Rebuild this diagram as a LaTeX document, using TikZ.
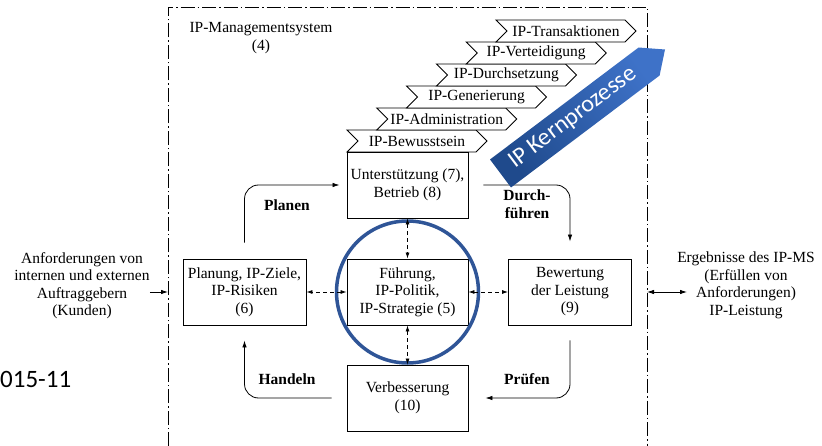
\documentclass[tikz,border=0pt]{standalone}
\usepackage{fontspec}
\setmainfont{Liberation Serif}
\newfontfamily\calfont{Carlito}
\usetikzlibrary{arrows.meta,shapes.symbols}
\definecolor{kreisblau}{HTML}{2F5597}
\definecolor{kerndunkel}{HTML}{1F4A8C}
\definecolor{kernhell}{HTML}{3E72C8}
\tikzset{
  txt/.style={font=\fontsize{15.5}{17.5}\selectfont, align=center, inner sep=0pt},
  fett/.style={txt, font=\fontsize{15.5}{17.5}\selectfont\bfseries},
  kasten/.style={txt, draw, line width=0.9pt, minimum width=121pt, minimum height=66pt},
  stufe/.style={txt, draw, line width=0.9pt, fill=white, signal, signal from=west,
    signal to=east, minimum width=140pt, minimum height=22pt},
  zyklus/.style={line width=0.8pt, rounded corners=14pt, -{Latex[length=7pt,width=4.5pt]}},
  wechsel/.style={line width=0.8pt, dash pattern=on 4pt off 3pt,
    {Latex[length=6pt,width=4pt]}-{Latex[length=6pt,width=4pt]}},
  rahmen/.style={line width=0.8pt, dash pattern=on 14pt off 3pt on 1.5pt off 3pt},
  aussen/.style={line width=0.8pt}
}
\begin{document}
\begin{tikzpicture}[x=1pt, y=-1pt]
  \useasboundingbox (0,0) rectangle (822,446);
  % system frame
  \draw[rahmen] (168,446) -- (168,7) -- (647,7) -- (647,446);
  \node[txt] (ims) at (261,38) {IP-Managementsystem\\(4)};
  % core process steps
  \foreach \t [count=\i from 0] in {Bewusstsein,Administration,Generierung,Durchsetzung,Verteidigung,Transaktionen}
    \node[stufe] (st\i) at ({417+29.8*\i},{141-22*\i}) {IP-\t};
  % PDCA boxes
  \node[kasten] (sup) at (407.5,185) {Unterstützung (7),\\Betrieb (8)};
  \node[kasten] (lead) at (407.5,292) {Führung,\\IP-Politik,\\IP-Strategie (5)};
  \node[kasten, minimum width=123pt] (plan) at (244.5,292) {Planung, IP-Ziele,\\IP-Risiken\\(6)};
  \node[kasten, minimum width=123pt] (eval) at (570,292) {Bewertung\\der Leistung\\(9)};
  \node[kasten] (impr) at (407.5,398) {Verbesserung\\(10)};
  \draw[kreisblau, line width=3.5pt] (lead.center) circle (71pt);
  \draw[wechsel] (sup.south) -- (lead.north);
  \draw[wechsel] (lead.south) -- (impr.north);
  \draw[wechsel] (lead.west) -- (plan.east);
  \draw[wechsel] (lead.east) -- (eval.west);
  % cycle
  \draw[zyklus] ([yshift=16pt]plan.north) |- ([xshift=-7pt]sup.west);
  \draw[zyklus] ([xshift=15pt]sup.east) -| ([yshift=17pt]eval.north);
  \draw[zyklus] ([yshift=-15pt]eval.south) |- ([xshift=17pt]impr.east);
  \draw[zyklus] ([xshift=-15pt]impr.west) -| ([yshift=-15pt]plan.south);
  \node[fett] (planen) at (287,205) {Planen};
  \node[fett] (durch) at (527,204) {Durch-\\führen};
  \node[fett] (pruefen) at (527,379) {Prüfen};
  \node[fett] (handeln) at (287,379) {Handeln};
  % outside
  \coordinate (inL) at (168,292);
  \coordinate (outR) at (647,292);
  \coordinate (resIn) at (687,292);
  \node[txt] (req) at (82,285.5) {Anforderungen von\\internen und externen\\Auftraggebern\\(Kunden)};
  \node[txt] (res) at (746,285.5) {Ergebnisse des IP-MS\\(Erfüllen von\\Anforderungen)\\IP-Leistung};
  \draw[aussen, -{Latex[length=7pt,width=4.5pt]}] (req.east |- inL) -- (inL);
  \draw[aussen, {Latex[length=7pt,width=4.5pt]}-{Latex[length=7pt,width=4.5pt]}] (outR) -- (resIn);
  \node[anchor=west, inner sep=0pt, font=\calfont\fontsize{25}{25}\selectfont] (nr) at (0,379) {015-11};
  % core process arrow
  \path[top color=kernhell, bottom color=kerndunkel, shading angle=-53]
    (490,159.5) -- (638.6,47.5) -- (665,49.5) -- (659.6,75.5) -- (511,187.5) -- cycle;
  \node[rotate=37, text=white, inner sep=0pt, font=\calfont\fontsize{24}{24}\selectfont] (kern) at (573,118) {IP Kernprozesse};
\end{tikzpicture}
\end{document}
